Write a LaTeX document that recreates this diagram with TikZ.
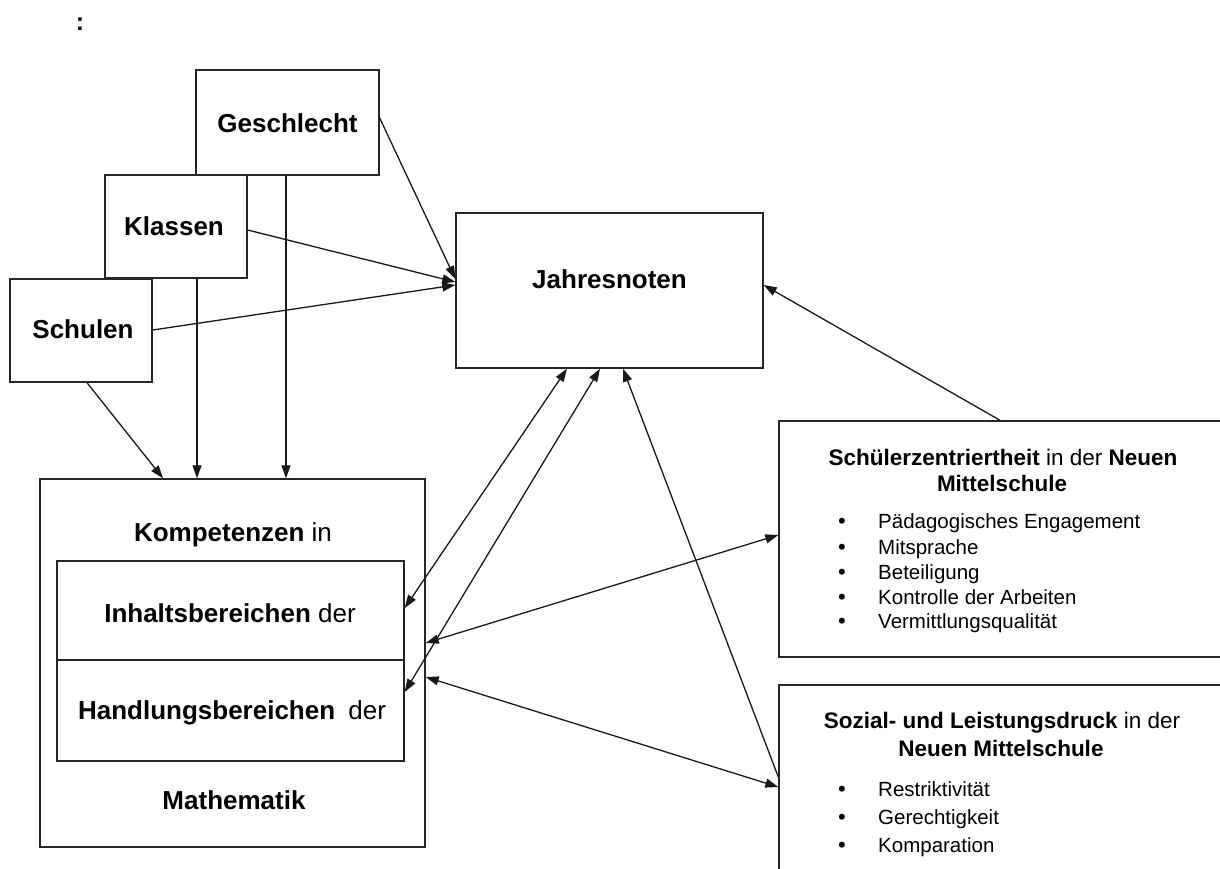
\documentclass[tikz,border=0pt]{standalone}
\usepackage{fontspec}
\setmainfont{Liberation Sans}
\usetikzlibrary{arrows.meta}
\begin{document}
\begin{tikzpicture}[x=1pt,y=-1pt,
  box/.style={draw=black!85, line width=1.4pt, fill=white, inner sep=0pt},
  lbl/.style={inner sep=0pt, anchor=base, font=\fontsize{26}{30}\selectfont},
  hdr/.style={inner sep=0pt, anchor=base, font=\fontsize{22.5}{26}\selectfont},
  item/.style={inner sep=0pt, anchor=base west, font=\fontsize{20.5}{24}\selectfont},
  bul/.style={inner sep=0pt, anchor=base, font=\fontsize{22}{24}\selectfont},
  conn/.style={line width=1.3pt, draw=black!90},
  tip/.style={-{Triangle[length=13pt,width=9pt]}},
  tips/.style={{Triangle[length=13pt,width=9pt]}-{Triangle[length=13pt,width=9pt]}}
]
\clip (0,0) rectangle (1220,868);
\fill[white] (0,0) rectangle (1220,868);

% heading colon
\node[inner sep=0pt, anchor=base, font=\fontsize{25}{28}\selectfont\bfseries] (colon) at (80,30) {:};

% stacked background variables
\node[box, minimum width=183pt, minimum height=105pt] (gesch) at (287.5,122.5) {};
\node[lbl] (tgesch) at (287.5,132) {\bfseries Geschlecht};
\node[box, minimum width=142pt, minimum height=103pt] (klass) at (176,226.5) {};
\node[lbl] (tklass) at (174,235) {\bfseries Klassen};
\node[box, minimum width=142pt, minimum height=103pt] (schul) at (81,330.5) {};
\node[lbl] (tschul) at (83,338) {\bfseries Schulen};

% outcome
\node[box, minimum width=307pt, minimum height=155pt] (jahr) at (609.5,290.5) {};
\node[lbl] (tjahr) at (609.5,288) {\bfseries Jahresnoten};

% competences block
\node[box, minimum width=385pt, minimum height=368pt] (math) at (232.5,663) {};
\node[box, minimum width=347pt, minimum height=99pt] (inh) at (230.5,610.5) {};
\node[box, minimum width=347pt, minimum height=101pt] (hand) at (230.5,710.5) {};
\node[lbl] (tkomp) at (233,541) {{\bfseries Kompetenzen} in};
\node[lbl] (tinh) at (230,622) {{\bfseries Inhaltsbereichen} der};
\node[lbl] (thand) at (232,719) {{\bfseries Handlungsbereichen}\hspace{6pt} der};
\node[lbl] (tmath) at (234,809) {\bfseries Mathematik};

% student-centredness
\node[box, minimum width=446pt, minimum height=236pt] (sz) at (1002,539) {};
\node[hdr] (tsz1) at (1003,465) {{\bfseries Schülerzentriertheit} in der {\bfseries Neuen}};
\node[hdr] (tsz2) at (1002,491) {\bfseries Mittelschule};
\foreach \t/\yy [count=\i] in {Pädagogisches Engagement/528, Mitsprache/554, Beteiligung/579, Kontrolle der Arbeiten/604, Vermittlungsqualität/628}{
  \node[bul] (szb\i) at (842,\yy) {•};
  \node[item] (szi\i) at (878,\yy) {\t};
}

% social and performance pressure
\node[box, minimum width=446pt, minimum height=195pt] (sd) at (1002,782.5) {};
\node[hdr] (tsd1) at (1002,728) {{\bfseries Sozial- und Leistungsdruck} in der};
\node[hdr] (tsd2) at (1001,756) {\bfseries Neuen Mittelschule};
\foreach \t/\yy [count=\i] in {Restriktivität/796, Gerechtigkeit/824, Komparation/852}{
  \node[bul] (sdb\i) at (842,\yy) {•};
  \node[item] (sdi\i) at (878,\yy) {\t};
}

% connectors
\draw[conn,tip] (gesch.east |- 0,118) -- (jahr.west |- 0,279);
\draw[conn,tip] (klass.east |- 0,230) -- (jahr.west |- 0,282);
\draw[conn,tip] (schul.east |- 0,330) -- (jahr.west |- 0,285);
\draw[conn,tip] (gesch.south -| 286,0) -- (math.north -| 286,0);
\draw[conn,tip] (klass.south -| 197,0) -- (math.north -| 197,0);
\draw[conn,tip] (schul.south -| 87,0) -- (math.north -| 163,0);
\draw[conn,tip] (sz.north -| 1000,0) -- (jahr.east |- 0,285);
\draw[conn,tips] (jahr.south -| 567,0) -- (inh.east |- 0,608);
\draw[conn,tips] (jahr.south -| 600,0) -- (hand.east |- 0,692);
\draw[conn,tip] (sd.west |- 0,777) -- (jahr.south -| 623,0);
\draw[conn,tips] (sz.west |- 0,535) -- (math.east |- 0,643);
\draw[conn,tips] (sd.west |- 0,787) -- (math.east |- 0,677);
\end{tikzpicture}
\end{document}
